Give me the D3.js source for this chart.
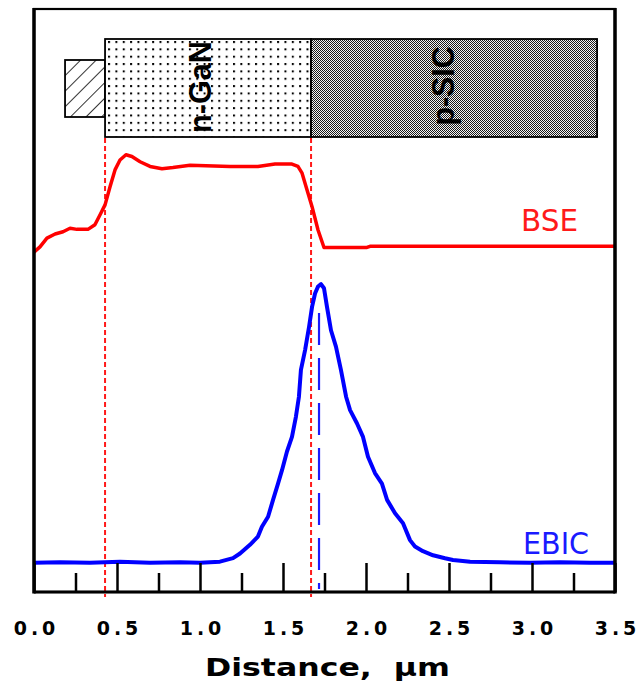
<!DOCTYPE html>
<html>
<head>
<meta charset="utf-8">
<script src="https://cdn.jsdelivr.net/npm/d3@7"></script>
<style>
  html, body { margin: 0; padding: 0; background: #fff; }
  svg { display: block; }
</style>
</head>
<body>
<svg id="chart" width="642" height="685"></svg>
<script>
// Axis ticks (distance in micrometres)
const xMajorTicks = [0, 0.5, 1.0, 1.5, 2.0, 2.5, 3.0, 3.5];
const xTickLabels = ["0.0", "0.5", "1.0", "1.5", "2.0", "2.5", "3.0", "3.5"];
const xMinorTicks = [0.25, 0.75, 1.25, 1.75, 2.25, 2.75, 3.25];

// Backscattered-electron line scan: [distance µm, signal a.u.]
const bseProfile = [
  [0.000, 58.3], [0.036, 59.2], [0.078, 60.7], [0.127, 61.4], [0.175, 61.8],
  [0.217, 62.4], [0.259, 62.2], [0.325, 62.2], [0.367, 63.0], [0.398, 64.7],
  [0.428, 66.4], [0.458, 69.5], [0.488, 72.4], [0.518, 74.1], [0.554, 75.0],
  [0.590, 74.7], [0.639, 73.8], [0.699, 73.0], [0.771, 72.6], [0.837, 72.8],
  [0.940, 73.2], [1.181, 73.0], [1.349, 73.0], [1.452, 73.4], [1.554, 73.4],
  [1.590, 73.0], [1.614, 71.9], [1.639, 69.5], [1.675, 66.1], [1.711, 62.1],
  [1.747, 59.1], [2.006, 59.1], [2.024, 59.3], [3.494, 59.3]
];

// Electron-beam-induced current line scan: [distance µm, signal a.u.]
const ebicProfile = [
  [0.000, 5.0], [0.157, 5.1], [0.337, 5.0], [0.518, 5.2], [0.699, 5.0],
  [0.880, 5.1], [1.000, 5.0], [1.120, 5.2], [1.199, 5.8], [1.241, 6.6],
  [1.301, 8.1], [1.349, 9.5], [1.373, 11.2], [1.410, 12.9], [1.440, 15.8],
  [1.470, 18.6], [1.494, 20.9], [1.524, 24.1], [1.554, 26.6], [1.578, 30.1],
  [1.596, 33.5], [1.608, 38.1], [1.633, 41.5], [1.657, 45.5], [1.675, 48.9],
  [1.693, 51.2], [1.711, 52.4], [1.729, 52.8], [1.747, 52.1], [1.765, 48.9],
  [1.789, 44.9], [1.819, 42.1], [1.849, 38.1], [1.880, 33.5], [1.904, 31.2],
  [1.946, 28.9], [1.982, 26.6], [2.012, 23.2], [2.054, 20.4], [2.096, 18.6],
  [2.127, 15.8], [2.175, 13.5], [2.223, 11.8], [2.265, 8.9], [2.295, 7.8],
  [2.343, 7.0], [2.404, 6.3], [2.476, 5.8], [2.524, 5.5], [2.627, 5.2],
  [2.807, 5.1], [2.988, 5.0], [3.169, 5.1], [3.349, 5.0], [3.494, 5.0]
];

// Sample structure (µm): contact, n-GaN layer, p-SiC substrate
const contactSpan = [0.187, 0.428];
const layerNames = ["n-GaN", "p-SIC"];
const layerSpans = [[0.428, 1.669], [1.669, 3.392]];
const interfaceMarks = [0.428, 1.669];
const junctionMark = [1.717];
const signalNames = ["BSE", "EBIC"];

const svg = d3.select("#chart");
const frame = { left: 34, right: 615, top: 9, bottom: 592 };

const x = d3.scaleLinear().domain([0, 3.5]).range([frame.left, frame.right]);
const y = d3.scaleLinear().domain([0, 100]).range([frame.bottom, frame.top]);

// Fill patterns for the layers
const defs = svg.append("defs");
const dots = defs.append("pattern").attr("id", "dots")
  .attr("patternUnits", "userSpaceOnUse").attr("width", 7.35).attr("height", 7.35)
  .attr("x", x(layerSpans[0][0]) + 3).attr("y", 41);
dots.append("rect").attr("width", 7.35).attr("height", 7.35).attr("fill", "#fff");
dots.append("rect").attr("x", 0).attr("y", 0).attr("width", 2).attr("height", 2).attr("fill", "#000");

const checker = defs.append("pattern").attr("id", "checker")
  .attr("patternUnits", "userSpaceOnUse").attr("width", 2).attr("height", 2);
checker.append("rect").attr("width", 2).attr("height", 2).attr("fill", "#f4f4f4");
checker.append("rect").attr("x", 0).attr("y", 0).attr("width", 1).attr("height", 1).attr("fill", "#1a1a1a");
checker.append("rect").attr("x", 1).attr("y", 1).attr("width", 1).attr("height", 1).attr("fill", "#1a1a1a");

const hatch = defs.append("pattern").attr("id", "hatch")
  .attr("patternUnits", "userSpaceOnUse").attr("width", 11).attr("height", 11)
  .attr("patternTransform", "rotate(45)");
hatch.append("rect").attr("width", 11).attr("height", 11).attr("fill", "#fff");
hatch.append("line").attr("x1", 0).attr("y1", 0).attr("x2", 0).attr("y2", 11)
  .attr("stroke", "#000").attr("stroke-width", 1.6);

// Structure schematic
const boxTop = 39, boxBottom = 137;
svg.append("rect")
  .attr("x", x(contactSpan[0])).attr("y", 60)
  .attr("width", x(contactSpan[1]) - x(contactSpan[0])).attr("height", 57)
  .attr("fill", "url(#hatch)").attr("stroke", "#000").attr("stroke-width", 1.8);

const layerFills = ["url(#dots)", "url(#checker)"];
svg.selectAll("rect.layer").data(layerSpans).join("rect")
  .attr("class", "layer")
  .attr("x", d => x(d[0])).attr("y", boxTop)
  .attr("width", d => x(d[1]) - x(d[0])).attr("height", boxBottom - boxTop)
  .attr("fill", (d, i) => layerFills[i])
  .attr("stroke", "#000").attr("stroke-width", 1.8);

const layerLabelPos = [[200, 87, 92], [443, 86, 79]];
layerNames.forEach((name, i) => {
  svg.append("text")
    .attr("transform", `translate(${layerLabelPos[i][0]},${layerLabelPos[i][1]}) rotate(-90)`)
    .attr("text-anchor", "middle").attr("dy", "0.36em")
    .attr("font-family", "Liberation Sans, Arial, sans-serif")
    .attr("font-weight", "bold").attr("font-size", 31)
    .attr("textLength", layerLabelPos[i][2]).attr("lengthAdjust", "spacingAndGlyphs")
    .attr("fill", "#000")
    .text(name);
});

// Interface markers
svg.selectAll("line.iface").data(interfaceMarks).join("line")
  .attr("class", "iface")
  .attr("x1", d => x(d)).attr("x2", d => x(d))
  .attr("y1", boxBottom + 1).attr("y2", 597)
  .attr("stroke", "#ff1a1a").attr("stroke-width", 2)
  .attr("stroke-dasharray", "5,3");

svg.selectAll("line.junction").data(junctionMark).join("line")
  .attr("class", "junction")
  .attr("x1", d => x(d)).attr("x2", d => x(d))
  .attr("y1", 313).attr("y2", 589)
  .attr("stroke", "#1a1aff").attr("stroke-width", 2.2)
  .attr("stroke-dasharray", "32,13");

// Signal curves
const line = d3.line().x(d => x(d[0])).y(d => y(d[1]));
svg.append("path").datum(bseProfile)
  .attr("d", line).attr("fill", "none")
  .attr("stroke", "#ff0000").attr("stroke-width", 3.5)
  .attr("stroke-linejoin", "round");
svg.append("path").datum(ebicProfile)
  .attr("d", line).attr("fill", "none")
  .attr("stroke", "#0000ff").attr("stroke-width", 4)
  .attr("stroke-linejoin", "round");

// Curve labels
const signalLabelPos = [[578, 231, 57, "#ff1a1a"], [589, 554, 66, "#1a1aff"]];
signalNames.forEach((name, i) => {
  const p = signalLabelPos[i];
  svg.append("text")
    .attr("x", p[0] - p[2]).attr("y", p[1])
    .attr("font-family", "DejaVu Sans, Liberation Sans, sans-serif")
    .attr("font-size", 31).attr("font-weight", "normal")
    .attr("textLength", p[2]).attr("lengthAdjust", "spacingAndGlyphs")
    .attr("fill", p[3])
    .text(name);
});

// Axis ticks pointing inward from the bottom edge
const minorAxis = d3.axisBottom(x).tickValues(xMinorTicks)
  .tickSizeInner(-19).tickSizeOuter(0).tickFormat("");
const gMinor = svg.append("g").attr("transform", `translate(0,${frame.bottom})`).call(minorAxis);
gMinor.select(".domain").remove();
gMinor.selectAll(".tick line").attr("stroke", "#000").attr("stroke-width", 2.5);

const labelSpacing = 4;
const majorAxis = d3.axisBottom(x).tickValues(xMajorTicks)
  .tickSizeInner(-29).tickSizeOuter(0).tickPadding(30)
  .tickFormat((d, i) => xTickLabels[i]);
const gMajor = svg.append("g").attr("transform", `translate(0,${frame.bottom})`).call(majorAxis);
gMajor.select(".domain").remove();
gMajor.selectAll(".tick line").attr("stroke", "#000").attr("stroke-width", 2.5);
gMajor.selectAll(".tick text")
  .attr("font-family", "DejaVu Sans, sans-serif")
  .attr("font-weight", "bold").attr("font-size", 19)
  .attr("fill", "#000")
  .attr("letter-spacing", labelSpacing)
  .attr("dx", labelSpacing / 2);

// Plot frame
svg.append("rect")
  .attr("x", frame.left).attr("y", frame.top)
  .attr("width", frame.right - frame.left).attr("height", frame.bottom - frame.top)
  .attr("fill", "none").attr("stroke", "#000").attr("stroke-width", 2.2);
svg.append("line").attr("x1", frame.left).attr("x2", frame.left)
  .attr("y1", frame.top - 1).attr("y2", frame.bottom + 1.5)
  .attr("stroke", "#000").attr("stroke-width", 3.5);
svg.append("line").attr("x1", frame.right).attr("x2", frame.right)
  .attr("y1", frame.top - 1).attr("y2", frame.bottom + 1.5)
  .attr("stroke", "#000").attr("stroke-width", 3.5);
svg.append("line").attr("x1", frame.left).attr("x2", frame.right)
  .attr("y1", frame.bottom).attr("y2", frame.bottom)
  .attr("stroke", "#000").attr("stroke-width", 3);

// Axis title
svg.append("text")
  .attr("x", 205).attr("y", 676)
  .attr("font-family", "DejaVu Sans, sans-serif")
  .attr("font-weight", "bold").attr("font-size", 25)
  .attr("textLength", 245).attr("lengthAdjust", "spacingAndGlyphs")
  .style("white-space", "pre")
  .attr("fill", "#000")
  .text("Distance,  \u03bcm");
</script>
</body>
</html>
